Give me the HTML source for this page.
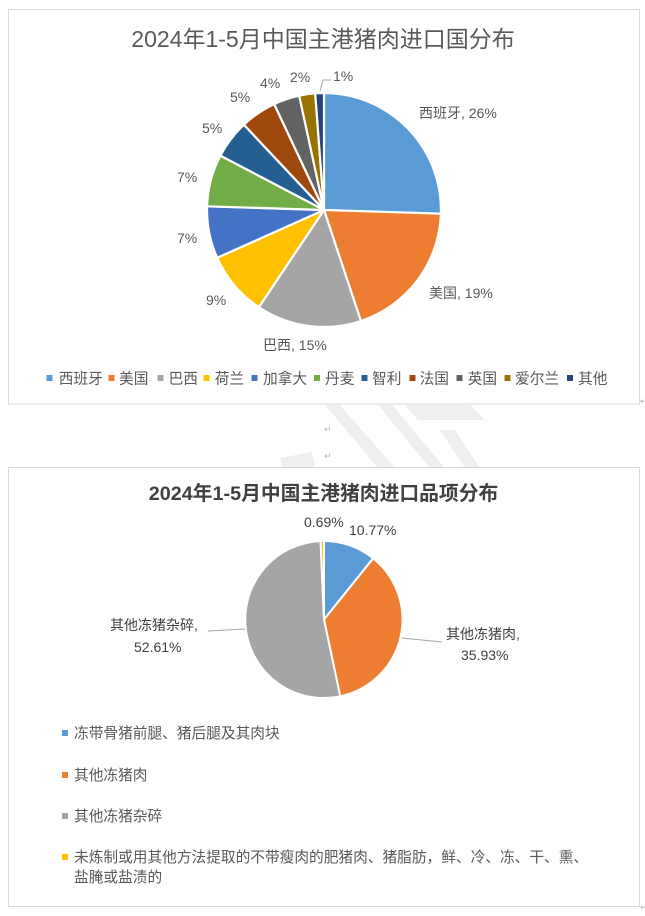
<!DOCTYPE html>
<html>
<head>
<meta charset="utf-8">
<style>
  html,body{margin:0;padding:0;background:#ffffff;}
  body{width:645px;height:916px;overflow:hidden;}
  svg{display:block;}
  text{font-family:"Liberation Sans","Noto Sans CJK SC",sans-serif;}
</style>
</head>
<body>
<svg width="645" height="916" viewBox="0 0 645 916" xmlns="http://www.w3.org/2000/svg">
  <rect x="0" y="0" width="645" height="916" fill="#ffffff"/>

  <!-- watermark in gap -->
  <g fill="#efefef">
    <polygon points="325,405 340,405 395,468 378,468"/>
    <polygon points="378,405 392,405 445,468 430,468"/>
    <polygon points="405,405 470,405 485,420 418,420"/>
    <polygon points="280,458 312,452 315,468 283,468"/>
    <polygon points="440,430 455,430 480,468 465,468"/>
  </g>

  <!-- Box 1 -->
  <rect x="8.5" y="9.5" width="631" height="394.5" fill="#ffffff" stroke="#d9d9d9" stroke-width="1"/>
  <text x="323" y="47" text-anchor="middle" font-size="23" fill="#595959">2024年1-5月中国主港猪肉进口国分布</text>

  <!-- Pie 1 -->
  <g stroke="#ffffff" stroke-width="2.2" stroke-linejoin="round">
    <path d="M324,210 L324,93 A117,117 0 0,1 440.9,213.7 Z" fill="#5B9BD5"/>
    <path d="M324,210 L440.9,213.7 A117,117 0 0,1 360.9,321.0 Z" fill="#ED7D31"/>
    <path d="M324,210 L360.9,321.0 A117,117 0 0,1 258.8,307.2 Z" fill="#A5A5A5"/>
    <path d="M324,210 L258.8,307.2 A117,117 0 0,1 217.2,257.8 Z" fill="#FFC000"/>
    <path d="M324,210 L217.2,257.8 A117,117 0 0,1 207.1,206.3 Z" fill="#4472C4"/>
    <path d="M324,210 L207.1,206.3 A117,117 0 0,1 220.4,155.6 Z" fill="#70AD47"/>
    <path d="M324,210 L220.4,155.6 A117,117 0 0,1 243.9,124.7 Z" fill="#255E91"/>
    <path d="M324,210 L243.9,124.7 A117,117 0 0,1 274.2,104.1 Z" fill="#9E480E"/>
    <path d="M324,210 L274.2,104.1 A117,117 0 0,1 299.2,95.7 Z" fill="#636363"/>
    <path d="M324,210 L299.2,95.7 A117,117 0 0,1 315.2,93.3 Z" fill="#997300"/>
    <path d="M324,210 L315.2,93.3 A117,117 0 0,1 324,93 Z" fill="#264478"/>
  </g>
  <polyline points="320,91 323,80 331,80" fill="none" stroke="#a6a6a6" stroke-width="1"/>

  <g font-size="14" fill="#595959">
    <text x="419" y="118">西班牙, 26%</text>
    <text x="429" y="298">美国, 19%</text>
    <text x="263" y="350">巴西, 15%</text>
    <text x="206" y="305">9%</text>
    <text x="177" y="243">7%</text>
    <text x="177" y="182">7%</text>
    <text x="202" y="133">5%</text>
    <text x="230" y="102">5%</text>
    <text x="260" y="88">4%</text>
    <text x="290" y="82">2%</text>
    <text x="333" y="81">1%</text>
  </g>

  <!-- Legend 1 -->
  <g>
    <rect x="46.5" y="375" width="6" height="6" fill="#5B9BD5"/>
    <rect x="108.5" y="375" width="6" height="6" fill="#ED7D31"/>
    <rect x="157.5" y="375" width="6" height="6" fill="#A5A5A5"/>
    <rect x="203.5" y="375" width="6" height="6" fill="#FFC000"/>
    <rect x="251.5" y="375" width="6" height="6" fill="#4472C4"/>
    <rect x="314" y="375" width="6" height="6" fill="#70AD47"/>
    <rect x="361.5" y="375" width="6" height="6" fill="#255E91"/>
    <rect x="409.5" y="375" width="6" height="6" fill="#9E480E"/>
    <rect x="456.5" y="375" width="6" height="6" fill="#636363"/>
    <rect x="504.5" y="375" width="6" height="6" fill="#997300"/>
    <rect x="567" y="375" width="6" height="6" fill="#264478"/>
  </g>
  <g font-size="14.7" fill="#595959">
    <text x="58.8" y="383.5">西班牙</text>
    <text x="119" y="383.5">美国</text>
    <text x="168.6" y="383.5">巴西</text>
    <text x="214.7" y="383.5">荷兰</text>
    <text x="263" y="383.5">加拿大</text>
    <text x="325" y="383.5">丹麦</text>
    <text x="372" y="383.5">智利</text>
    <text x="419.6" y="383.5">法国</text>
    <text x="467.7" y="383.5">英国</text>
    <text x="515" y="383.5">爱尔兰</text>
    <text x="578" y="383.5">其他</text>
  </g>

  <!-- paragraph marks -->
  <g font-size="9" fill="#b0b0b0">
    <text x="640" y="404">↵</text>
    <text x="324" y="432">↵</text>
    <text x="324" y="459">↵</text>
    <text x="640" y="910">↵</text>
  </g>

  <!-- Box 2 -->
  <rect x="8.5" y="467.5" width="631" height="439" fill="#ffffff" stroke="#d9d9d9" stroke-width="1"/>
  <text x="323.5" y="500" text-anchor="middle" font-size="19.8" font-weight="bold" fill="#404040">2024年1-5月中国主港猪肉进口品项分布</text>

  <!-- Pie 2 -->
  <g stroke="#ffffff" stroke-width="2" stroke-linejoin="round">
    <path d="M324,619.5 L324,541 A78.5,78.5 0 0,1 373.2,558.3 Z" fill="#5B9BD5"/>
    <path d="M324,619.5 L373.2,558.3 A78.5,78.5 0 0,1 340.2,696.3 Z" fill="#ED7D31"/>
    <path d="M324,619.5 L340.2,696.3 A78.5,78.5 0 1,1 320.6,541.1 Z" fill="#A5A5A5"/>
    <path d="M324,619.5 L320.6,541.1 A78.5,78.5 0 0,1 324,541 Z" fill="#FFC000"/>
  </g>
  <line x1="402" y1="638" x2="442" y2="642" stroke="#a6a6a6" stroke-width="1"/>
  <line x1="208" y1="631" x2="245" y2="629" stroke="#a6a6a6" stroke-width="1"/>

  <g font-size="14" fill="#404040">
    <text x="304" y="527">0.69%</text>
    <text x="349" y="535">10.77%</text>
    <text x="446" y="639">其他冻猪肉,</text>
    <text x="461" y="660">35.93%</text>
    <text x="110" y="630">其他冻猪杂碎,</text>
    <text x="134" y="652">52.61%</text>
  </g>

  <!-- Legend 2 -->
  <rect x="62" y="730" width="6" height="6" fill="#5B9BD5"/>
  <rect x="62" y="772" width="6" height="6" fill="#ED7D31"/>
  <rect x="62" y="813" width="6" height="6" fill="#A5A5A5"/>
  <rect x="62" y="854" width="6" height="6" fill="#FFC000"/>
  <g font-size="14.7" fill="#595959">
    <text x="74" y="738">冻带骨猪前腿、猪后腿及其肉块</text>
    <text x="74" y="780">其他冻猪肉</text>
    <text x="74" y="821">其他冻猪杂碎</text>
    <text x="74" y="862">未炼制或用其他方法提取的不带瘦肉的肥猪肉、猪脂肪，鲜、冷、冻、干、熏、</text>
    <text x="74" y="882">盐腌或盐渍的</text>
  </g>
</svg>
</body>
</html>
